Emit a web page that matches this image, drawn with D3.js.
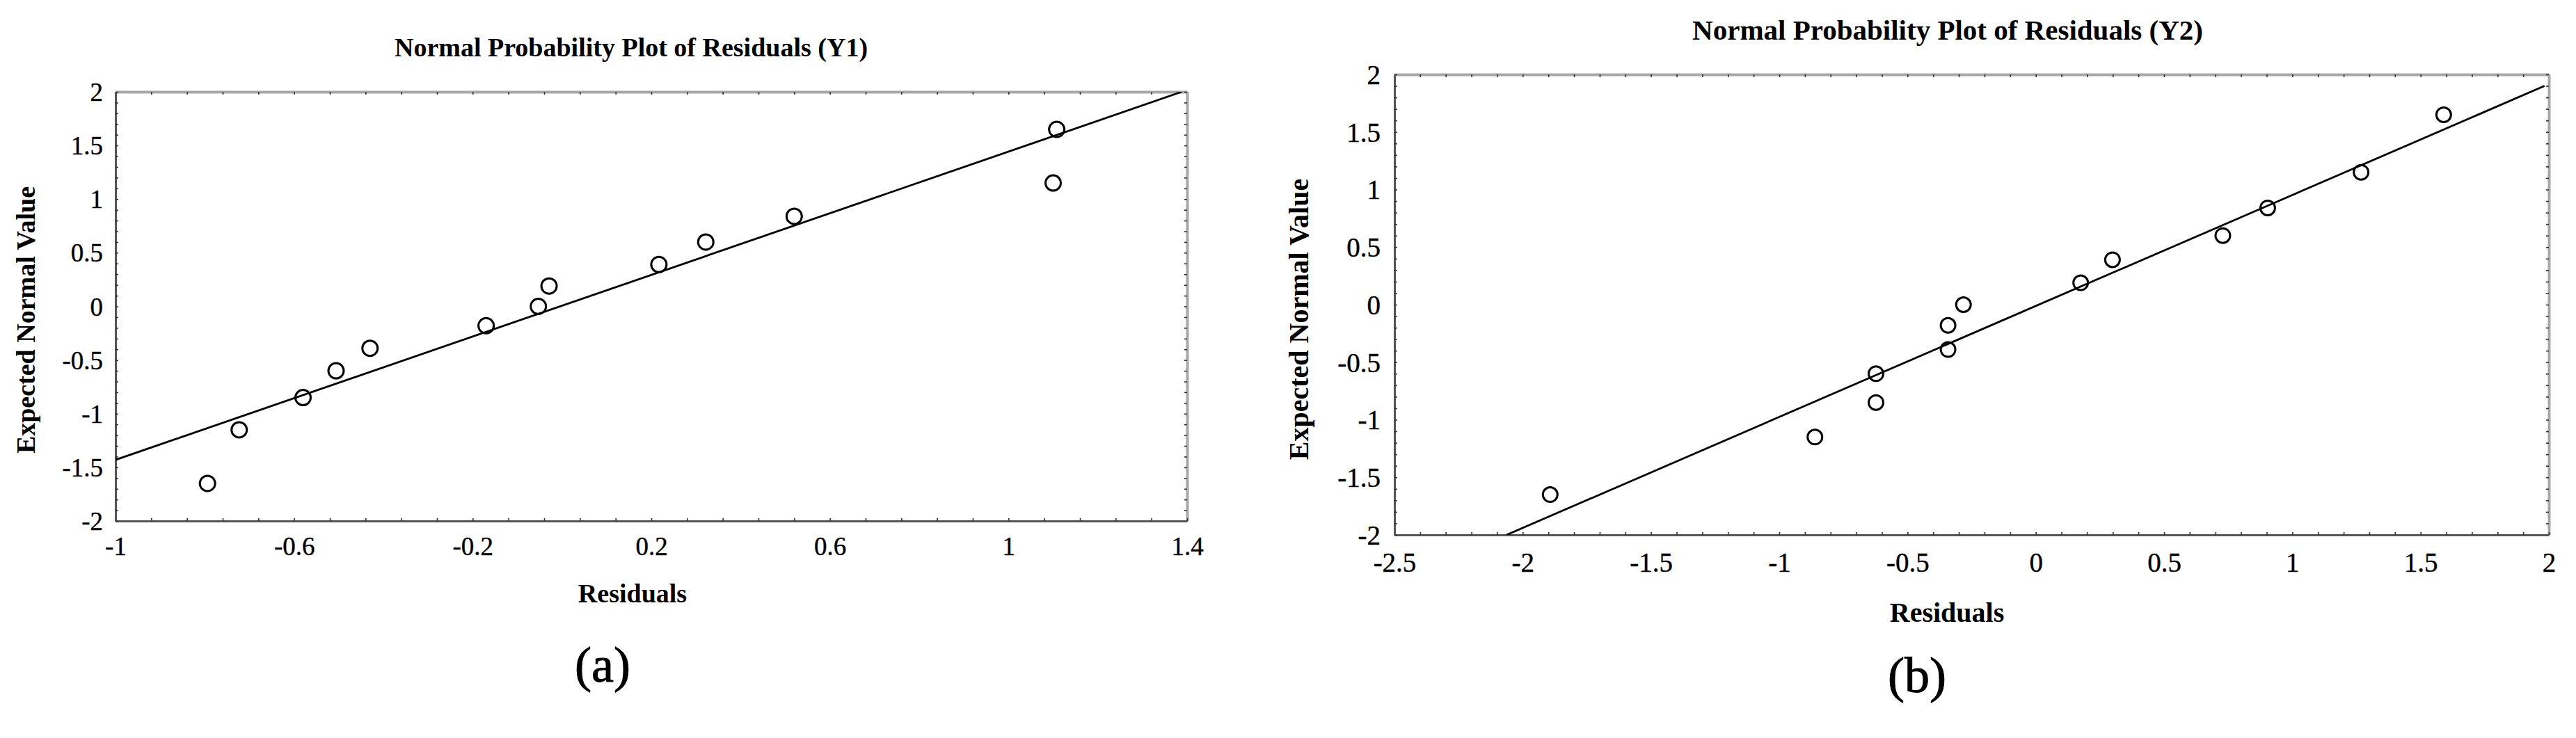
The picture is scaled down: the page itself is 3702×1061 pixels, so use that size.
<!DOCTYPE html>
<html>
<head>
<meta charset="utf-8">
<script src="https://cdn.jsdelivr.net/npm/d3@7"></script>
<style>
  html, body { margin: 0; padding: 0; background: #fff; }
  svg { display: block; }
  svg text { font-family: "Liberation Serif", serif; fill: #000; }
</style>
</head>
<body>
<svg id="chart" width="3702" height="1061"></svg>
<script>
// ---------------- DATA ----------------
// Panel (a): Y1
const residualsY1 = [-0.794, -0.723, -0.580, -0.506, -0.430, -0.170, -0.053, -0.029, 0.217, 0.322, 0.520, 1.100, 1.108];
const expectedY1  = [-1.65, -1.15, -0.85, -0.60, -0.39, -0.18, 0.00, 0.19, 0.39, 0.60, 0.84, 1.15, 1.65];
const fitLineY1X  = [-1.0, 1.388];
const fitLineY1Y  = [-1.43, 2.0];
const xTicksY1    = [-1, -0.6, -0.2, 0.2, 0.6, 1, 1.4];
const xTickLabelsY1 = ["-1", "-0.6", "-0.2", "0.2", "0.6", "1", "1.4"];

// Panel (b): Y2
const residualsY2 = [-1.893, -0.861, -0.623, -0.623, -0.342, -0.342, -0.282, 0.175, 0.299, 0.729, 0.904, 1.268, 1.590];
const expectedY2  = [-1.65, -1.15, -0.85, -0.60, -0.39, -0.18, 0.00, 0.19, 0.39, 0.60, 0.84, 1.15, 1.65];
const fitLineY2X  = [-2.063, 1.983];
const fitLineY2Y  = [-2.0, 1.90];
const xTicksY2    = [-2.5, -2, -1.5, -1, -0.5, 0, 0.5, 1, 1.5, 2];
const xTickLabelsY2 = ["-2.5", "-2", "-1.5", "-1", "-0.5", "0", "0.5", "1", "1.5", "2"];

// shared y axis
const yTicks      = [-2, -1.5, -1, -0.5, 0, 0.5, 1, 1.5, 2];
const yTickLabels = ["-2", "-1.5", "-1", "-0.5", "0", "0.5", "1", "1.5", "2"];

const titles   = ["Normal Probability Plot of Residuals (Y1)", "Normal Probability Plot of Residuals (Y2)"];
const xLabel   = "Residuals";
const yLabel   = "Expected Normal Value";
const captions = ["(a)", "(b)"];

// ---------------- LAYOUT ----------------
const SERIF = '"Liberation Serif", serif';
const svg = d3.select("#chart");
svg.append("rect").attr("width", 3702).attr("height", 1061).attr("fill", "#fff");

const panels = [
  {
    res: residualsY1, exp: expectedY1, lx: fitLineY1X, ly: fitLineY1Y,
    xTicks: xTicksY1, xLabels: xTickLabelsY1, xMinorStep: 0.08,
    xDomain: [-1, 1.4], yDomain: [-2, 2],
    left: 166, right: 1706, top: 132, bottom: 749,
    tickFont: 37, titleFont: 38, labelFont: 38, capFont: 72,
    title: titles[0], titleX: 907, titleY: 81,
    xLabY: 866, xLabX: 909, xTickY: 798, yTickGap: 18,
    yLabX: 50, yLabY: 460,
    cap: captions[0], capX: 866, capY: 980, r: 11
  },
  {
    res: residualsY2, exp: expectedY2, lx: fitLineY2X, ly: fitLineY2Y,
    xTicks: xTicksY2, xLabels: xTickLabelsY2, xMinorStep: 0.1,
    xDomain: [-2.5, 2], yDomain: [-2, 2],
    left: 2004, right: 3663, top: 107, bottom: 769,
    tickFont: 39, titleFont: 41, labelFont: 40, capFont: 72,
    title: titles[1], titleX: 2799, titleY: 57,
    xLabY: 894, xLabX: 2798, xTickY: 822, yTickGap: 20,
    yLabX: 1880, yLabY: 459,
    cap: captions[1], capX: 2755, capY: 995, r: 10.5
  }
];

panels.forEach((p, i) => {
  const g = svg.append("g");
  const x = d3.scaleLinear().domain(p.xDomain).range([p.left, p.right]);
  const y = d3.scaleLinear().domain(p.yDomain).range([p.bottom, p.top]);

  const nx = Math.round((p.xDomain[1] - p.xDomain[0]) / p.xMinorStep);
  const xMinor = d3.range(nx + 1).map(k => p.xDomain[0] + k * p.xMinorStep);
  const ny = Math.round((p.yDomain[1] - p.yDomain[0]) / 0.1);
  const yMinor = d3.range(ny + 1).map(k => p.yDomain[0] + k * 0.1);

  const styleTicks = (sel, col, w) => {
    sel.selectAll(".tick line").attr("stroke", "#333").attr("stroke-width", 1.6);
    sel.select(".domain").attr("stroke", col).attr("stroke-width", w);
  };

  // frame axes with inward minor ticks
  g.append("g").attr("transform", `translate(0,${p.top})`)
    .call(d3.axisTop(x).tickValues(xMinor).tickSize(-4).tickSizeOuter(0).tickFormat(""))
    .call(s => styleTicks(s, "#a8a8a8", 4));
  g.append("g").attr("transform", `translate(${p.right},0)`)
    .call(d3.axisRight(y).tickValues(yMinor).tickSize(-4).tickSizeOuter(0).tickFormat(""))
    .call(s => styleTicks(s, "#a8a8a8", 4));
  g.append("g").attr("transform", `translate(0,${p.bottom})`)
    .call(d3.axisBottom(x).tickValues(xMinor).tickSize(-4).tickSizeOuter(0).tickFormat(""))
    .call(s => styleTicks(s, "#555", 3));
  g.append("g").attr("transform", `translate(${p.left},0)`)
    .call(d3.axisLeft(y).tickValues(yMinor).tickSize(-4).tickSizeOuter(0).tickFormat(""))
    .call(s => styleTicks(s, "#555", 3));

  // tick labels
  const xl = g.append("g").attr("transform", `translate(0,${p.bottom})`)
    .call(d3.axisBottom(x).tickValues(p.xTicks).tickSize(0)
      .tickFormat((d, k) => p.xLabels[k]));
  xl.attr("font-family", null).attr("font-size", null);
  xl.select(".domain").remove();
  xl.selectAll("text").attr("y", p.xTickY - p.bottom).attr("dy", null)
    .style("font-family", SERIF).style("font-size", p.tickFont + "px")
    .attr("fill", "#000").attr("stroke", "#000").attr("stroke-width", 0.4);

  const yl = g.append("g").attr("transform", `translate(${p.left},0)`)
    .call(d3.axisLeft(y).tickValues(yTicks).tickSize(0)
      .tickFormat((d, k) => yTickLabels[k]));
  yl.attr("font-family", null).attr("font-size", null);
  yl.select(".domain").remove();
  yl.selectAll("text").attr("x", -p.yTickGap).attr("dy", "0.34em")
    .style("font-family", SERIF).style("font-size", p.tickFont + "px")
    .attr("fill", "#000").attr("stroke", "#000").attr("stroke-width", 0.4);

  // fitted line
  const clipId = "clip" + i;
  svg.append("clipPath").attr("id", clipId).append("rect")
    .attr("x", p.left).attr("y", p.top).attr("width", p.right - p.left).attr("height", p.bottom - p.top);
  const lineData = p.lx.map((v, k) => [v, p.ly[k]]);
  g.append("path").datum(lineData)
    .attr("clip-path", `url(#${clipId})`)
    .attr("d", d3.line().x(d => x(d[0])).y(d => y(d[1])))
    .attr("fill", "none").attr("stroke", "#000").attr("stroke-width", 2.8);

  // points
  g.selectAll("circle.pt").data(p.res.map((v, k) => [v, p.exp[k]])).enter()
    .append("circle").attr("class", "pt")
    .attr("cx", d => x(d[0])).attr("cy", d => y(d[1])).attr("r", p.r)
    .attr("fill", "none").attr("stroke", "#000").attr("stroke-width", 3);

  // title
  g.append("text").attr("x", p.titleX).attr("y", p.titleY)
    .attr("text-anchor", "middle").style("font-weight", "bold").style("font-size", p.titleFont + "px")
    .style("font-family", SERIF)
    .text(p.title);
  // x label
  g.append("text").attr("x", p.xLabX).attr("y", p.xLabY)
    .attr("text-anchor", "middle").style("font-weight", "bold").style("font-size", p.labelFont + "px")
    .style("font-family", SERIF)
    .text(xLabel);
  // y label
  g.append("text").attr("transform", `translate(${p.yLabX},${p.yLabY}) rotate(-90)`)
    .attr("text-anchor", "middle").style("font-weight", "bold").style("font-size", p.labelFont + "px")
    .style("font-family", SERIF)
    .text(yLabel);
  // caption
  g.append("text").attr("x", p.capX).attr("y", p.capY)
    .attr("text-anchor", "middle").style("font-size", p.capFont + "px")
    .style("font-family", SERIF)
    .attr("stroke", "#000").attr("stroke-width", 1.0)
    .text(p.cap);
});
</script>
</body>
</html>
